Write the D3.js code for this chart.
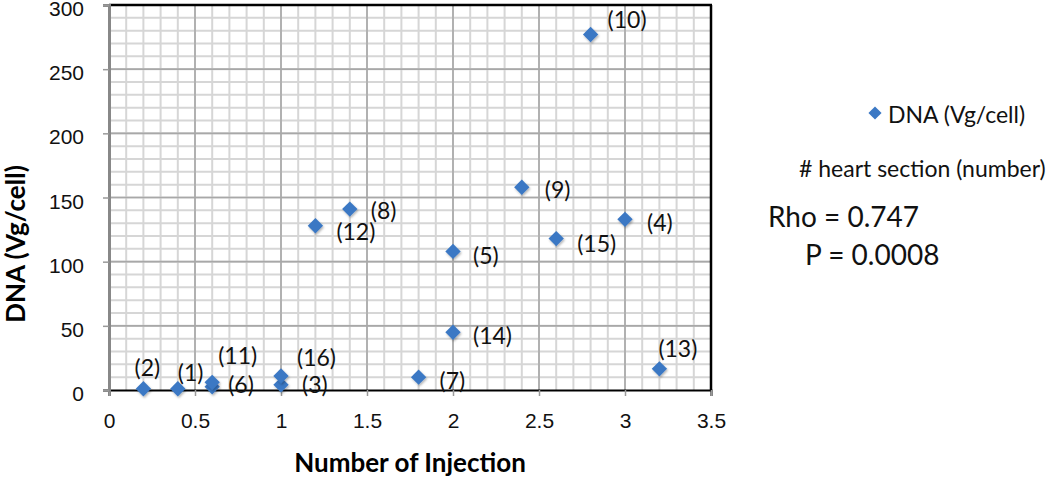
<!DOCTYPE html>
<html>
<head>
<meta charset="utf-8">
<script src="https://cdn.jsdelivr.net/npm/d3@7"></script>
<style>
  body { margin: 0; background: #fff; }
  svg { display: block; font-family: Lato, "Open Sans", sans-serif; }
</style>
</head>
<body>
<div id="chart"></div>
<script>
// heart section numbers, injections and DNA per point
var sectionIds = [1, 2, 3, 4, 5, 6, 7, 8, 9, 10, 11, 12, 13, 14, 15, 16];
var injections = [0.4, 0.2, 1, 3, 2, 0.6, 1.8, 1.4, 2.4, 2.8, 0.6, 1.2, 3.2, 2, 2.6, 1];
var dnaValues = [1, 1, 4, 133, 108, 2.5, 10, 141, 158, 277, 6, 128, 16.5, 45, 118, 11];

var xTicks = [0, 0.5, 1, 1.5, 2, 2.5, 3, 3.5];
var yTicks = [0, 50, 100, 150, 200, 250, 300];

var seriesName = "DNA (Vg/cell)";
var seriesNote = "# heart section (number)";
var statRho = "Rho = 0.747";
var statP = "P = 0.0008";

// where each "(n)" label sits relative to its marker
var labelNudge = {
  1: [0, -16, "start"], 2: [4, -21, "middle"], 3: [21, 0, "start"],
  4: [22, 4, "start"], 5: [20, 5, "start"], 6: [16, -2, "start"],
  7: [21, 4, "start"], 8: [21, 2, "start"], 9: [23, 3, "start"],
  10: [17, -15, "start"], 11: [6, -26, "start"], 12: [21, 6, "start"],
  13: [-1, -20, "start"], 14: [20, 4, "start"], 15: [21, 5, "start"],
  16: [16, -18, "start"]
};

var width = 1050, height = 478;
var blue = "#3b78c4";

var svg = d3.select("#chart").append("svg")
  .attr("width", width)
  .attr("height", height);

var x = d3.scaleLinear().domain([0, 3.5]).range([109, 711]);
var y = d3.scaleLinear().domain([0, 300]).range([390, 5]);

var defs = svg.append("defs");
var shadow = defs.append("filter").attr("id", "shadow")
  .attr("x", "-50%").attr("y", "-50%").attr("width", "200%").attr("height", "200%");
shadow.append("feDropShadow")
  .attr("dx", 1).attr("dy", 1.5).attr("stdDeviation", 1)
  .attr("flood-color", "#000").attr("flood-opacity", 0.3);

// minor grid
var grid = svg.append("g");
grid.selectAll(".vminor")
  .data(d3.range(1, 35).map(function (i) { return i / 10; }))
  .enter().append("line")
  .attr("x1", function (d) { return x(d); })
  .attr("x2", function (d) { return x(d); })
  .attr("y1", y(0)).attr("y2", y(300))
  .attr("stroke", "#d6d6d6").attr("stroke-width", 2);
grid.selectAll(".hminor")
  .data(d3.range(1, 30).map(function (i) { return i * 10; }))
  .enter().append("line")
  .attr("y1", function (d) { return y(d); })
  .attr("y2", function (d) { return y(d); })
  .attr("x1", x(0)).attr("x2", x(3.5))
  .attr("stroke", "#d6d6d6").attr("stroke-width", 2);

// major grid
grid.selectAll(".vmajor")
  .data(xTicks.slice(1, -1))
  .enter().append("line")
  .attr("x1", function (d) { return x(d); })
  .attr("x2", function (d) { return x(d); })
  .attr("y1", y(0)).attr("y2", y(300))
  .attr("stroke", "#a8a8a8").attr("stroke-width", 1.6);
grid.selectAll(".hmajor")
  .data(yTicks.slice(1, -1))
  .enter().append("line")
  .attr("y1", function (d) { return y(d); })
  .attr("y2", function (d) { return y(d); })
  .attr("x1", x(0)).attr("x2", x(3.5))
  .attr("stroke", "#a8a8a8").attr("stroke-width", 1.6);

// frame
svg.append("line").attr("x1", x(0)).attr("x2", x(3.5) + 1)
  .attr("y1", y(300)).attr("y2", y(300))
  .attr("stroke", "#000").attr("stroke-width", 2.5);
svg.append("line").attr("x1", x(3.5)).attr("x2", x(3.5))
  .attr("y1", y(300)).attr("y2", y(0))
  .attr("stroke", "#000").attr("stroke-width", 2.5);

// axes
var xAxis = svg.append("g")
  .attr("transform", "translate(0," + y(0) + ")")
  .call(d3.axisBottom(x).tickValues(xTicks).tickSize(6).tickPadding(17)
    .tickFormat(function (d) { return d; }));
xAxis.select(".domain").attr("stroke", "#000").attr("stroke-width", 2);
xAxis.selectAll(".tick line").attr("stroke", "#999").attr("stroke-width", 1.5);
xAxis.selectAll("text").attr("font-size", 21).attr("fill", "#111");

var yAxis = svg.append("g")
  .attr("transform", "translate(" + x(0) + ",0)")
  .call(d3.axisLeft(y).tickValues(yTicks).tickSize(6).tickPadding(19));
yAxis.select(".domain").attr("stroke", "#888").attr("stroke-width", 3);
yAxis.selectAll(".tick line").attr("stroke", "#999").attr("stroke-width", 1.5);
yAxis.selectAll("text").attr("font-size", 21).attr("fill", "#111")
  .attr("dy", "0.5em");

// axis titles
svg.append("text")
  .attr("x", 410).attr("y", 463).attr("dy", "0.35em")
  .attr("text-anchor", "middle")
  .attr("font-size", 26).attr("font-weight", "bold")
  .text("Number of Injection");
svg.append("text")
  .attr("transform", "translate(16,244) rotate(-90)")
  .attr("dy", "0.35em")
  .attr("text-anchor", "middle")
  .attr("font-size", 26).attr("font-weight", "bold")
  .text("DNA (Vg/cell)");

// points
var diamond = d3.symbol().type(d3.symbolDiamond2).size(150);
var points = sectionIds.map(function (id, i) {
  return { id: id, x: injections[i], y: dnaValues[i] };
});

svg.append("g").selectAll("path")
  .data(points)
  .enter().append("path")
  .attr("d", diamond)
  .attr("transform", function (d) { return "translate(" + x(d.x) + "," + y(d.y) + ")"; })
  .attr("fill", blue)
  .attr("filter", "url(#shadow)");

svg.append("g").selectAll("text")
  .data(points)
  .enter().append("text")
  .attr("x", function (d) { return x(d.x) + labelNudge[d.id][0]; })
  .attr("y", function (d) { return y(d.y) + labelNudge[d.id][1]; })
  .attr("dy", "0.35em")
  .attr("text-anchor", function (d) { return labelNudge[d.id][2]; })
  .attr("font-size", 23)
  .attr("fill", "#111")
  .text(function (d) { return "(" + d.id + ")"; });

// legend + stats
svg.append("path")
  .attr("d", d3.symbol().type(d3.symbolDiamond2).size(110))
  .attr("transform", "translate(875,113)")
  .attr("fill", blue);
svg.append("text")
  .attr("x", 888).attr("y", 115).attr("dy", "0.35em")
  .attr("font-size", 23).attr("fill", "#111")
  .text(seriesName);
svg.append("text")
  .attr("x", 799).attr("y", 169).attr("dy", "0.35em")
  .attr("font-size", 23).attr("fill", "#111")
  .text(seriesNote);
svg.append("text")
  .attr("x", 768).attr("y", 217).attr("dy", "0.35em")
  .attr("font-size", 28).attr("fill", "#111")
  .text(statRho);
svg.append("text")
  .attr("x", 805).attr("y", 255).attr("dy", "0.35em")
  .attr("font-size", 28).attr("fill", "#111")
  .text(statP);
</script>
</body>
</html>
